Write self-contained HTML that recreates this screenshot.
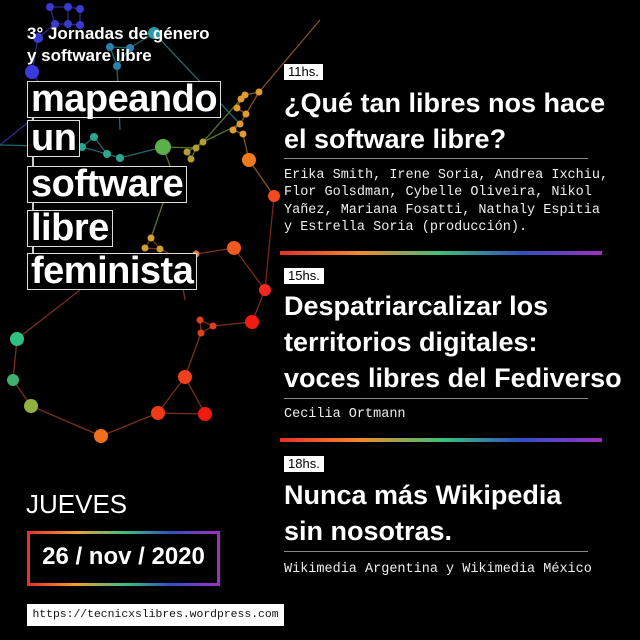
<!DOCTYPE html>
<html><head><meta charset="utf-8"><style>
body{margin:0;background:#000;width:640px;height:640px;overflow:hidden;position:relative;font-family:"Liberation Sans",sans-serif;color:#fff}
.a{position:absolute}
.b{position:absolute;left:27px;border:1.5px solid #ddd;font-weight:bold;font-size:38px;line-height:35px;padding:0 3px;background:#000;letter-spacing:-0.5px}
.h{position:absolute;left:284px;font-weight:bold;font-size:27px;line-height:36px;white-space:nowrap}
.t{position:absolute;left:284px;background:#fff;color:#000;font-size:13px;line-height:16px;padding:0 4px}
.m{position:absolute;left:284px;font-family:"Liberation Mono",monospace;font-size:13.5px;line-height:17.4px;color:#eee;white-space:nowrap}
.g{position:absolute;left:284px;width:304px;height:1px;background:#888}
.r{position:absolute;left:280px;width:322px;height:4px;background:linear-gradient(90deg,#e8302a,#f08a30,#3fbf7a,#3050c0,#a030c0)}
</style></head><body>
<svg class="a" style="left:0;top:0" width="640" height="640">
<g stroke-width="1.3" opacity="0.75">
<path d="M50 7L68 7L80 9M55 24L68 24L80 25M50 7L55 24M68 7L68 24M80 9L80 25M38 38L55 24M38 38L32 72L52 103L0 145" stroke="#3a3ab0" fill="none"/>
<path d="M154 33L130 48L110 47L117 66L130 48M154 33L240 124M117 66L120 130M94 137L82 147L107 154L120 158L163 147M94 137L107 154M0 145L82 147" stroke="#2a8a90" fill="none"/>
<path d="M163 147L196 148L203 142L187 152L191 159L196 148M203 142L241 99M203 142L240 124M173 174L163 147M173 174L151 238" stroke="#7a9a3a" fill="none"/>
<path d="M241 99L245 95L259 92L246 114L237 108L241 99M246 114L240 124L233 130L243 134L249 160L274 196M259 92L320 20" stroke="#b0702a" fill="none"/>
<path d="M151 238L145 248L160 249L151 238M160 249L178 258L196 254L234 248L265 290L252 322L213 326L200 320L201 333L213 326M201 333L185 377L158 413L205 414L185 377M158 413L101 436L31 406L13 380L17 339L80 290M178 258L185 300" stroke="#a04020" fill="none"/>
<path d="M274 196L265 290" stroke="#a03020"/>
</g>
<g>
<circle cx="50" cy="7" r="4" fill="#3a3ad0"/><circle cx="68" cy="7" r="4" fill="#3a3ad0"/><circle cx="80" cy="9" r="4" fill="#3a3ad0"/>
<circle cx="55" cy="24" r="4" fill="#3a3ad0"/><circle cx="68" cy="24" r="4" fill="#3a3ad0"/><circle cx="80" cy="25" r="4" fill="#3a3ad0"/>
<circle cx="38" cy="38" r="5" fill="#3a3ad0"/><circle cx="32" cy="72" r="7" fill="#3a3ae0"/><circle cx="52" cy="103" r="5" fill="#3048c0"/>
<circle cx="154" cy="33" r="6" fill="#2a9aa8"/><circle cx="110" cy="47" r="4" fill="#2a80b0"/><circle cx="130" cy="48" r="4" fill="#2a80b0"/><circle cx="117" cy="66" r="4" fill="#2a80b0"/>
<circle cx="94" cy="137" r="4" fill="#2aa890"/><circle cx="82" cy="147" r="4" fill="#2aa890"/><circle cx="107" cy="154" r="4" fill="#2aa890"/><circle cx="120" cy="158" r="4" fill="#2aa890"/>
<circle cx="163" cy="147" r="8" fill="#5ab04a"/><circle cx="173" cy="174" r="7" fill="#8ab040"/>
<circle cx="196" cy="148" r="3.5" fill="#b0a030"/><circle cx="203" cy="142" r="3.5" fill="#b0a030"/><circle cx="187" cy="152" r="3.5" fill="#b0a030"/><circle cx="191" cy="159" r="3.5" fill="#b0a030"/>
<circle cx="241" cy="99" r="3.5" fill="#e09a30"/><circle cx="245" cy="95" r="3.5" fill="#e09a30"/><circle cx="259" cy="92" r="3.5" fill="#e09a30"/><circle cx="237" cy="108" r="3.5" fill="#e09a30"/><circle cx="246" cy="114" r="3.5" fill="#e09a30"/><circle cx="240" cy="124" r="3.5" fill="#e09a30"/><circle cx="233" cy="130" r="3.5" fill="#e09a30"/><circle cx="243" cy="134" r="3.5" fill="#e09a30"/>
<circle cx="249" cy="160" r="7" fill="#f07a20"/><circle cx="274" cy="196" r="6" fill="#f04a20"/>
<circle cx="151" cy="238" r="3.5" fill="#d0a030"/><circle cx="145" cy="248" r="3.5" fill="#d0a030"/><circle cx="160" cy="249" r="3.5" fill="#d0a030"/>
<circle cx="178" cy="258" r="3.5" fill="#e08030"/><circle cx="196" cy="254" r="3.5" fill="#e08030"/>
<circle cx="234" cy="248" r="7" fill="#f05a20"/><circle cx="265" cy="290" r="6" fill="#f02a20"/>
<circle cx="200" cy="320" r="3.5" fill="#e04020"/><circle cx="213" cy="326" r="3.5" fill="#e04020"/><circle cx="201" cy="333" r="3.5" fill="#e04020"/>
<circle cx="252" cy="322" r="7" fill="#f01a10"/><circle cx="185" cy="377" r="7" fill="#f04020"/><circle cx="158" cy="413" r="7" fill="#f03a15"/><circle cx="205" cy="414" r="7" fill="#f01a10"/>
<circle cx="101" cy="436" r="7" fill="#f07020"/><circle cx="31" cy="406" r="7" fill="#90b040"/><circle cx="13" cy="380" r="6" fill="#40b070"/><circle cx="17" cy="339" r="7" fill="#30c080"/>
</g>
</svg>
<div class="a" style="left:27px;top:23px;font-weight:bold;font-size:17px;line-height:22px">3° Jornadas de género<br>y software libre</div>
<div class="a" style="left:32px;top:110px;width:1.5px;height:150px;background:#ccc"></div>
<div class="b" style="top:81px">mapeando</div>
<div class="b" style="top:120px">un</div>
<div class="b" style="top:166px">software</div>
<div class="b" style="top:210px">libre</div>
<div class="b" style="top:253px">feminista</div>

<div class="t" style="top:64px">11hs.</div>
<div class="h" style="top:85px">¿Qué tan libres nos hace<br>el software libre?</div>
<div class="g" style="top:158px"></div>
<div class="m" style="top:167px">Erika Smith, Irene Soria, Andrea Ixchiu,<br>Flor Golsdman, Cybelle Oliveira, Nikol<br>Yañez, Mariana Fosatti, Nathaly Espitia<br>y Estrella Soria (producción).</div>
<div class="r" style="top:251px"></div>

<div class="t" style="top:268px">15hs.</div>
<div class="h" style="top:288px">Despatriarcalizar los<br>territorios digitales:<br>voces libres del Fediverso</div>
<div class="g" style="top:398px"></div>
<div class="m" style="top:406px">Cecilia Ortmann</div>
<div class="r" style="top:438px"></div>

<div class="t" style="top:456px">18hs.</div>
<div class="h" style="top:477px">Nunca más Wikipedia<br>sin nosotras.</div>
<div class="g" style="top:551px"></div>
<div class="m" style="top:561px">Wikimedia Argentina y Wikimedia México</div>

<div class="a" style="left:26px;top:489px;font-size:26px;font-weight:normal">JUEVES</div>
<div class="a" style="left:27px;top:531px;width:193px;height:55px;box-sizing:border-box;border:3px solid;border-image:linear-gradient(90deg,#e8302a,#f0a030,#40c080,#3050c0,#a030c0) 1"></div>
<div class="a" style="left:27px;top:543px;width:193px;text-align:center;font-weight:bold;font-size:24px">26 / nov / 2020</div>
<div class="a" style="left:27px;top:604px;width:257px;height:22px;background:#fff;color:#111;font-family:'Liberation Mono',monospace;font-size:11.4px;line-height:22px;text-align:center;white-space:nowrap">https://tecnicxslibres.wordpress.com</div>
</body></html>
